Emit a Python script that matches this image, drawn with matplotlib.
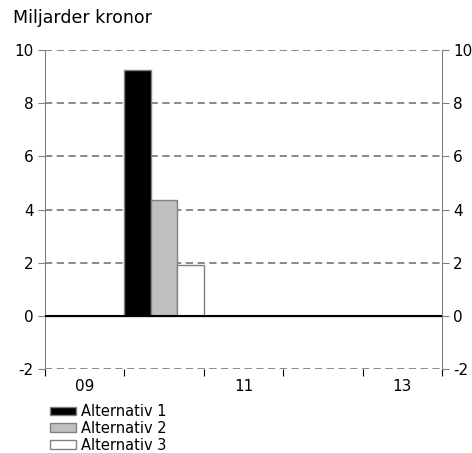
import matplotlib.pyplot as plt
import numpy as np

years = [2009, 2010, 2011, 2012, 2013]
alt1 = [0, 9.25, 0, 0, 0]
alt2 = [0, 4.35, 0, 0, 0]
alt3 = [0, 1.93, 0, 0, 0]
labels = ['Alternativ 1', 'Alternativ 2', 'Alternativ 3']
fills = ['#000000', '#c0c0c0', '#ffffff']
yticks = [-2, 0, 2, 4, 6, 8, 10]
xlabels = ['09', '', '11', '', '13']

plt.rcParams['font.family'] = 'DejaVu Sans'
fig = plt.figure(figsize=(4.72, 4.53), dpi=100)
ax = fig.add_axes([0.0953, 0.1854, 0.8411, 0.7042])

w = 1 / 3
handles = []
for i, (vals, col, lab) in enumerate(zip([alt1, alt2, alt3], fills, labels)):
    x = np.array(years) + i * w
    b = ax.bar(x, vals, width=w, align='edge', color=col,
               edgecolor='#808080', linewidth=1, label=lab, zorder=3)
    handles.append(b)

# grid
for t in yticks:
    if t == 0:
        ax.axhline(0, color='black', linewidth=1.5, zorder=4)
    else:
        ax.axhline(t, color='#808080', linewidth=1.3, linestyle=(0, (4, 2.5)), zorder=1)

ax.set_xlim(2009, 2014)
ax.set_ylim(-2, 10)
ax.set_yticks(yticks)
ax.set_yticklabels([str(t) for t in yticks], fontsize=11)
ax.tick_params(axis='y', which='both', direction='out', length=5, color='#808080',
               labelright=True, right=True, pad=3)

ax.set_xticks(years + [2014])
ax.set_xticklabels([])
ax.set_xticks(np.array(years) + 0.5, minor=True)
ax.set_xticklabels(xlabels, minor=True, fontsize=11)
ax.tick_params(axis='x', which='major', direction='out', length=5, color='black')
ax.tick_params(axis='x', which='minor', length=0, pad=7)

for s in ['left', 'right']:
    ax.spines[s].set_color('#808080')
ax.spines['top'].set_visible(False)
ax.spines['bottom'].set_visible(False)

fig.text(0.028, 0.96, 'Miljarder kronor', fontsize=12.5, va='center', ha='left')

fig.legend(handles=handles, labels=labels, loc='upper left',
           bbox_to_anchor=(0.106, 0.108), frameon=False, fontsize=10.5,
           handlelength=1.8, handleheight=0.5, handletextpad=0.3,
           labelspacing=0.12, borderpad=0, borderaxespad=0)

fig.savefig('out.png', dpi=100)
